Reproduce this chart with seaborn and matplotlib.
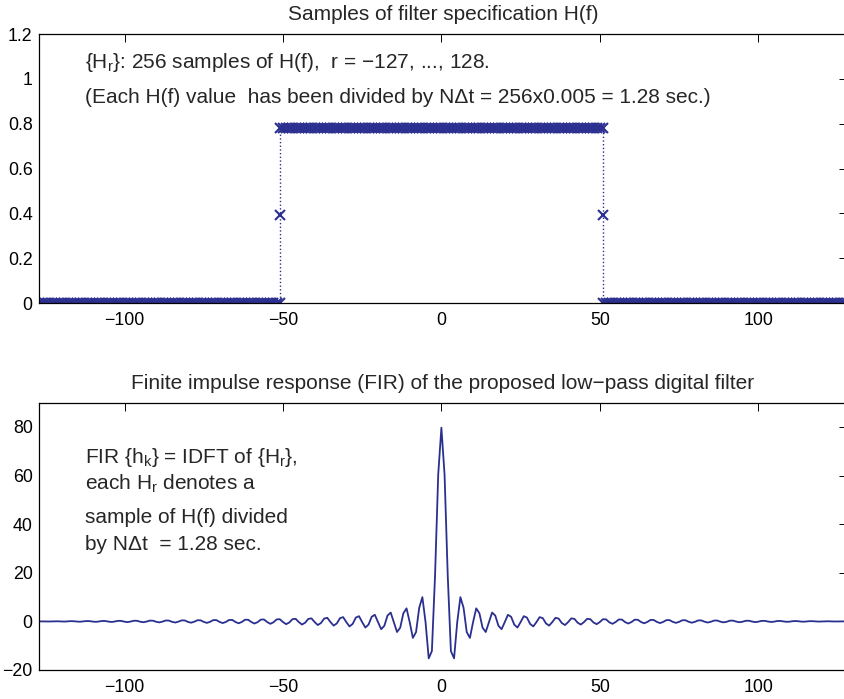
#!/usr/bin/env python

import matplotlib

matplotlib.use("Agg")
import matplotlib.pyplot as plt
import numpy as np
import pandas as pd
import seaborn as sns

# Filter specification samples H_r as drawn: zero stop band, a flat pass
# band at 1/1.28 and a half-height sample on each band edge (r = +-51).
pass_level = 0.78125
edge_level = 0.390625
r_top = np.concatenate(
    [np.arange(-127, -50), [-51], np.arange(-51, 52), [51], np.arange(51, 129)]
)
H_top = np.concatenate(
    [np.zeros(77), [edge_level], np.full(103, pass_level), [edge_level], np.zeros(78)]
)

# FIR h_k, k = -127 ... 128.
k_index = np.arange(-127, 129)
h_neg = [
    0.01, 0.01, -0.02, -0.04, 0.00, 0.05, 0.04, -0.04, -0.08, -0.01,
    0.10, 0.07, -0.07, -0.13, -0.01, 0.14, 0.11, -0.09, -0.18, -0.02,
    0.19, 0.15, -0.11, -0.23, -0.03, 0.23, 0.19, -0.13, -0.29, -0.04,
    0.28, 0.23, -0.15, -0.34, -0.06, 0.33, 0.28, -0.17, -0.40, -0.08,
    0.37, 0.33, -0.18, -0.47, -0.11, 0.42, 0.39, -0.20, -0.54, -0.13,
    0.48, 0.45, -0.21, -0.61, -0.17, 0.53, 0.52, -0.23, -0.69, -0.21,
    0.59, 0.60, -0.24, -0.78, -0.25, 0.66, 0.69, -0.25, -0.88, -0.31,
    0.73, 0.79, -0.26, -1.00, -0.37, 0.81, 0.91, -0.27, -1.14, -0.45,
    0.91, 1.06, -0.28, -1.30, -0.54, 1.02, 1.24, -0.29, -1.50, -0.66,
    1.16, 1.46, -0.29, -1.74, -0.82, 1.33, 1.75, -0.30, -2.07, -1.03,
    1.57, 2.14, -0.30, -2.53, -1.33, 1.90, 2.71, -0.31, -3.21, -1.79,
    2.41, 3.63, -0.31, -4.37, -2.60, 3.34, 5.37, -0.31, -6.79, -4.41,
    5.58, 9.97, -0.31, -15.22, -12.21, 18.96, 60.46,
]
h_pos = [
    79.69, 60.46, 18.96, -12.21, -15.22, -0.31, 9.97, 5.58, -4.41, -6.79,
    -0.31, 5.37, 3.34, -2.60, -4.37, -0.31, 3.63, 2.41, -1.79, -3.21,
    -0.31, 2.71, 1.90, -1.33, -2.53, -0.30, 2.14, 1.57, -1.03, -2.07,
    -0.30, 1.75, 1.33, -0.82, -1.74, -0.29, 1.46, 1.16, -0.66, -1.50,
    -0.29, 1.24, 1.02, -0.54, -1.30, -0.28, 1.06, 0.91, -0.45, -1.14,
    -0.27, 0.91, 0.81, -0.37, -1.00, -0.26, 0.79, 0.73, -0.31, -0.88,
    -0.25, 0.69, 0.66, -0.25, -0.78, -0.24, 0.60, 0.59, -0.21, -0.69,
    -0.23, 0.52, 0.53, -0.17, -0.61, -0.21, 0.45, 0.48, -0.13, -0.54,
    -0.20, 0.39, 0.42, -0.11, -0.47, -0.18, 0.33, 0.37, -0.08, -0.40,
    -0.17, 0.28, 0.33, -0.06, -0.34, -0.15, 0.23, 0.28, -0.04, -0.29,
    -0.13, 0.19, 0.23, -0.03, -0.23, -0.11, 0.15, 0.19, -0.02, -0.18,
    -0.09, 0.11, 0.14, -0.01, -0.13, -0.07, 0.07, 0.10, -0.01, -0.08,
    -0.04, 0.04, 0.05, 0.00, -0.04, -0.02, 0.01, 0.01, 0.00,
]
h_k = h_neg + h_pos

x_ticks = [-100, -50, 0, 50, 100]
top_yticks = [0, 0.2, 0.4, 0.6, 0.8, 1, 1.2]
top_yticklabels = ["0", "0.2", "0.4", "0.6", "0.8", "1", "1.2"]
bottom_yticks = [-20, 0, 20, 40, 60, 80]

df_top = pd.DataFrame({"r": r_top, "H": H_top})
df_bottom = pd.DataFrame({"k": k_index, "h": h_k})

sns.set_style("white")
plt.rcParams["font.family"] = ["Liberation Sans", "DejaVu Sans"]
plt.rcParams["mathtext.default"] = "regular"

text_size = 15
tick_size = 12.8
line_color = "#2b2f8f"

fig = plt.figure(figsize=(8.44, 6.99), dpi=100)
# Right edge of both boxes sits just past the picture, as in the reference.
ax1 = fig.add_axes([0.0462, 0.5665, 0.9573, 0.3848])
ax2 = fig.add_axes([0.0462, 0.0415, 0.9573, 0.3824])

# Upper panel: samples marked with x, joined by a dotted line.
sns.lineplot(
    data=df_top, x="r", y="H", ax=ax1, estimator=None, sort=False,
    color=line_color, linestyle=":", linewidth=1.0, marker="x",
    markersize=6.5, markeredgewidth=1.5, markeredgecolor=line_color,
)
ax1.set_xlim(-127, 128)
ax1.set_ylim(0, 1.2)
ax1.set_xticks(x_ticks)
ax1.set_yticks(top_yticks)
ax1.set_yticklabels(top_yticklabels)
ax1.set_title("Samples of filter specification H(f)", fontsize=text_size, pad=10)
ax1.text(0.057, 0.8736,
         "{H$_r$}: 256 samples of H(f),  r = \u2212127, ..., 128.",
         transform=ax1.transAxes, va="baseline", ha="left", fontsize=text_size)
ax1.text(0.057, 0.7435,
         "(Each H(f) value  has been divided by N\u0394t = 256x0.005 = 1.28 sec.)",
         transform=ax1.transAxes, va="baseline", ha="left", fontsize=text_size)

# Lower panel: the FIR.
sns.lineplot(data=df_bottom, x="k", y="h", ax=ax2, estimator=None,
             color=line_color, linewidth=1.3)
ax2.set_xlim(-127, 128)
ax2.set_ylim(-20, 90)
ax2.set_xticks(x_ticks)
ax2.set_yticks(bottom_yticks)
ax2.set_title(
    "Finite impulse response (FIR) of the proposed low\u2212pass digital filter",
    fontsize=text_size, pad=10)
fir_lines = [
    (0.7744, "FIR {h$_k$} = IDFT of {H$_r$},"),
    (0.6734, "each H$_r$ denotes a"),
    (0.550, "sample of H(f) divided"),
    (0.449, "by N\u0394t  = 1.28 sec."),
]
for ypos, txt in fir_lines:
    ax2.text(0.057, ypos, txt, transform=ax2.transAxes, va="baseline",
             ha="left", fontsize=text_size)

for ax in (ax1, ax2):
    ax.set_xlabel("")
    ax.set_ylabel("")
    ax.tick_params(direction="in", length=5.5, width=0.7, top=True, right=True,
                   labelsize=tick_size, colors="black")
    ax.tick_params(axis="x", pad=6.5)
    ax.tick_params(axis="y", pad=4.5)
    for side in ax.spines.values():
        side.set_visible(True)
        side.set_color("black")
        side.set_linewidth(0.9)

fig.savefig("out.png", dpi=100)
